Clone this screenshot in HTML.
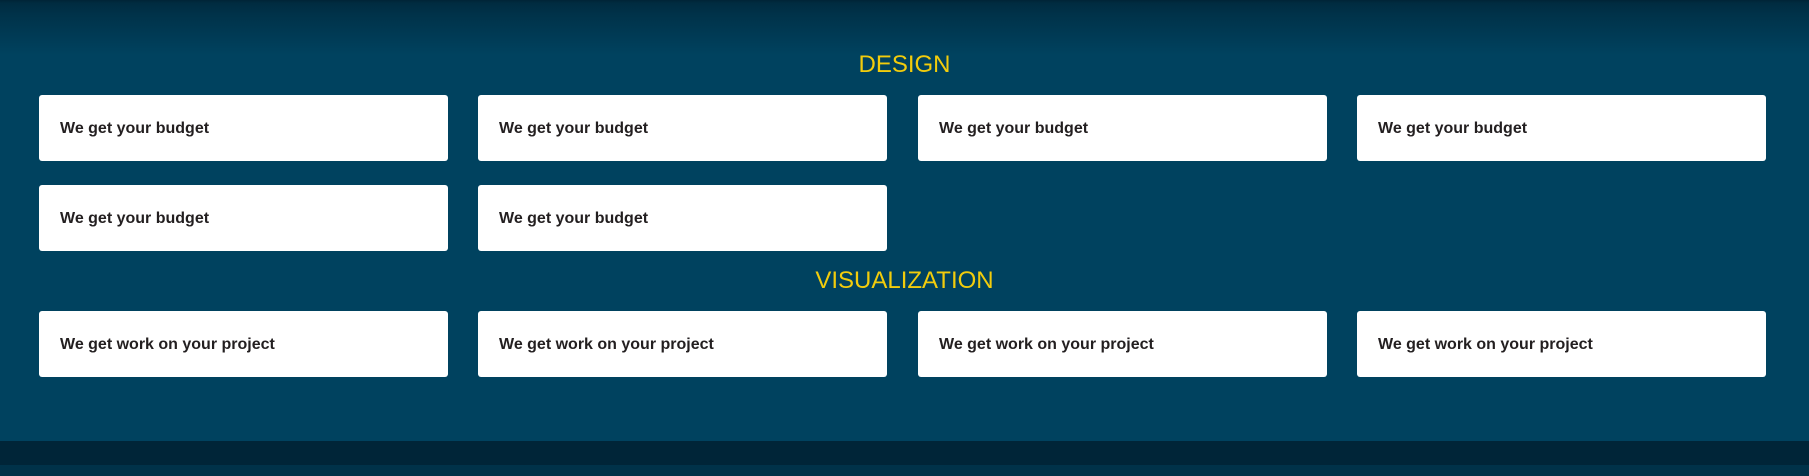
<!DOCTYPE html>
<html><head><meta charset="utf-8"><style>
html,body{margin:0;padding:0;}
body{width:1809px;height:476px;position:relative;overflow:hidden;background:#00425f;font-family:"Liberation Sans",sans-serif;}
.top{position:absolute;left:0;top:0;width:1809px;height:60px;background:linear-gradient(#002436 0,#002b40 3px,#003249 14px,#00425f 55px);}
.bot1{position:absolute;left:0;top:441px;width:1809px;height:24px;background:#002538;}
.bot2{position:absolute;left:0;top:465px;width:1809px;height:11px;background:#003249;}
.h{position:absolute;left:0;width:1809px;text-align:center;color:#f2cc0c;font-size:24px;line-height:30px;}
.c{position:absolute;width:409px;height:66px;background:#fff;border-radius:3px;box-sizing:border-box;padding-left:21px;padding-top:1px;font-weight:bold;font-size:16px;color:#231f20;line-height:66px;}
</style></head><body>
<div class="top"></div>
<div class="h" style="top:50px">DESIGN</div>
<div class="c" style="left:39px;top:95px">We get your budget</div>
<div class="c" style="left:478px;top:95px">We get your budget</div>
<div class="c" style="left:918px;top:95px">We get your budget</div>
<div class="c" style="left:1357px;top:95px">We get your budget</div>
<div class="c" style="left:39px;top:185px">We get your budget</div>
<div class="c" style="left:478px;top:185px">We get your budget</div>
<div class="h" style="top:266px">VISUALIZATION</div>
<div class="c" style="left:39px;top:311px">We get work on your project</div>
<div class="c" style="left:478px;top:311px">We get work on your project</div>
<div class="c" style="left:918px;top:311px">We get work on your project</div>
<div class="c" style="left:1357px;top:311px">We get work on your project</div>
<div class="bot1"></div>
<div class="bot2"></div>
</body></html>
